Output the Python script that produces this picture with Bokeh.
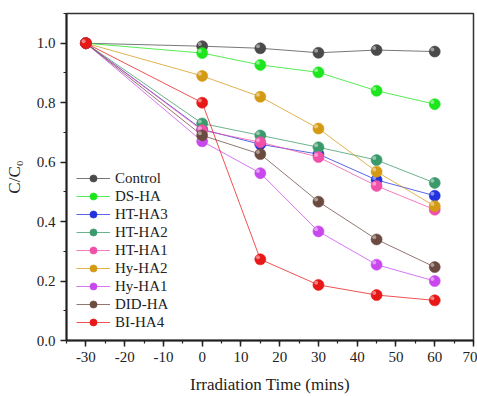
from bokeh.plotting import figure
from bokeh.models import FixedTicker, PrintfTickFormatter, Legend
from bokeh.transform import dodge
from bokeh.embed import file_html
from bokeh.resources import INLINE

time = [-30, 0, 15, 30, 45, 60]

names = ["Control", "DS-HA", "HT-HA3", "HT-HA2", "HT-HA1", "Hy-HA2", "Hy-HA1", "DID-HA", "BI-HA4"]
control = [1.0, 0.99, 0.983, 0.968, 0.977, 0.972]
ds_ha = [1.0, 0.967, 0.927, 0.902, 0.84, 0.795]
ht_ha3 = [1.0, 0.71, 0.66, 0.627, 0.54, 0.487]
ht_ha2 = [1.0, 0.73, 0.69, 0.65, 0.607, 0.53]
ht_ha1 = [1.0, 0.707, 0.667, 0.617, 0.52, 0.44]
hy_ha2 = [1.0, 0.89, 0.82, 0.713, 0.568, 0.452]
hy_ha1 = [1.0, 0.67, 0.563, 0.367, 0.255, 0.2]
did_ha = [1.0, 0.69, 0.627, 0.467, 0.34, 0.247]
bi_ha4 = [1.0, 0.80, 0.273, 0.187, 0.153, 0.135]
series = [control, ds_ha, ht_ha3, ht_ha2, ht_ha1, hy_ha2, hy_ha1, did_ha, bi_ha4]
colors = ["#4a4a4a", "#1ee61e", "#2233dd", "#3a9a6a", "#f050a8", "#d49a14", "#c848ee", "#6b4a40", "#e81818"]

x_ticks = [-30, -20, -10, 0, 10, 20, 30, 40, 50, 60, 70]
y_ticks = [0.0, 0.2, 0.4, 0.6, 0.8, 1.0]

FONT = "Liberation Serif"

p = figure(width=477, height=396, output_backend="svg", toolbar_location=None,
           x_range=(-35, 70), y_range=(0, 1.1),
           min_border_left=66, min_border_right=4, min_border_top=13, min_border_bottom=53)
p.background_fill_color = "white"
p.border_fill_color = "white"
p.grid.visible = False
p.outline_line_color = "#333333"
p.outline_line_width = 1.5

for ax in (p.xaxis[0], p.yaxis[0]):
    ax.axis_line_width = 2
    ax.axis_line_color = "#222222"
    ax.major_tick_line_color = "#222222"
    ax.minor_tick_line_color = "#222222"
    ax.major_tick_line_width = 1.5
    ax.minor_tick_line_width = 1.2
    ax.major_tick_out = 6
    ax.major_tick_in = 0
    ax.minor_tick_out = 3
    ax.minor_tick_in = 0
    ax.major_label_text_font = FONT
    ax.major_label_text_font_size = "15px"
    ax.major_label_text_color = "#222222"
    ax.axis_label_text_font = FONT
    ax.axis_label_text_font_size = "17px"
    ax.axis_label_text_font_style = "normal"
    ax.axis_label_text_color = "#222222"

p.xaxis.ticker = FixedTicker(ticks=x_ticks, minor_ticks=[-35 + 5 * i for i in range(22)])
p.yaxis.ticker = FixedTicker(ticks=y_ticks, minor_ticks=[0.1 * i for i in range(12)])
p.xaxis.formatter = PrintfTickFormatter(format="%d")
p.yaxis.formatter = PrintfTickFormatter(format="%.1f")
p.xaxis.axis_label = "Irradiation Time (mins)"
p.yaxis.axis_label = "C/C\u2080"
p.xaxis.axis_label_standoff = 10
p.yaxis.axis_label_standoff = 10
p.xaxis.major_label_standoff = 5

items = []
for name, vals, col in zip(names, series, colors):
    src = dict(x=time, y=vals)
    l = p.line(x="x", y="y", source=src, line_color=col, line_width=1, line_alpha=0.75)
    s = p.scatter(x="x", y="y", source=src, size=11, fill_color=col, line_color=col, line_alpha=0.6)
    p.scatter(x=dodge("x", -0.6, range=p.x_range), y=dodge("y", 0.007, range=p.y_range),
              source=src, size=4, fill_color="white", fill_alpha=0.45, line_alpha=0)
    items.append((name, [l, s]))

legend = Legend(items=items, location=(10, 9))
legend.border_line_alpha = 0
legend.background_fill_alpha = 0
legend.label_text_font = FONT
legend.label_text_font_size = "15px"
legend.label_text_color = "#222222"
legend.glyph_width = 34
legend.glyph_height = 18
legend.label_height = 18
legend.spacing = 0
legend.padding = 0
legend.margin = 0
legend.label_standoff = 5
p.add_layout(legend, "center")

with open("out.html", "w") as f:
    f.write(file_html(p, INLINE))
